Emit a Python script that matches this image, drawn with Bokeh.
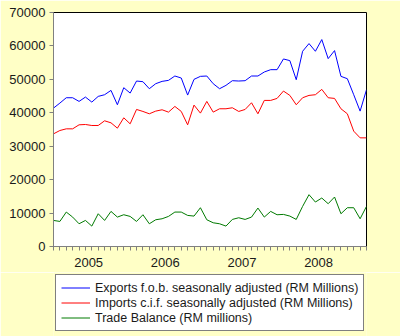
from bokeh.plotting import figure
from bokeh.layouts import column
from bokeh.models import ColumnDataSource, FixedTicker, Legend, LegendItem, Range1d
from bokeh.embed import file_html
from bokeh.resources import INLINE

# Monthly data, Jan 2005 .. Feb 2009 (RM millions)
months = list(range(50))
exports = [41400, 42900, 44500, 44500, 43400, 44700, 43200, 44900, 45400, 46700,
           42400, 47500, 45900, 49500, 49300, 47200, 48700, 49400, 49700, 51000,
           50400, 45300, 50000, 50900, 51000, 48700, 47200, 48200, 49600, 49500,
           49600, 51000, 51000, 52200, 52900, 52900, 56100, 55600, 49900, 58400,
           60700, 58400, 61900, 56200, 58600, 50900, 50200, 45400, 40500, 46900]
imports = [33700, 34700, 35200, 35200, 36400, 36500, 36200, 36200, 37600, 37000,
           35400, 38500, 36700, 41000, 40400, 39700, 40500, 40900, 40200, 41900,
           40400, 36400, 42300, 39900, 43400, 40200, 41200, 41200, 41500, 40400,
           41000, 43000, 39700, 43700, 43700, 44300, 46500, 45200, 42400, 44500,
           45200, 45400, 47000, 44500, 44300, 41200, 39700, 34500, 32500, 32500]
balance = [7800, 7500, 10300, 8800, 6800, 7800, 6100, 9800, 7800, 10500,
           8800, 9500, 9000, 7500, 9500, 6800, 8000, 8300, 9000, 10300,
           10300, 9300, 9100, 11600, 8000, 7100, 6800, 6100, 8100, 8600,
           8100, 8800, 11500, 8800, 10500, 9500, 9600, 9100, 8100, 12000,
           15500, 13300, 14500, 12800, 14800, 9800, 11600, 11600, 8300, 12000]
year_labels = ["2005", "2006", "2007", "2008"]
year_centers = [5.5, 17.5, 29.5, 41.5]
y_ticks = [0, 10000, 20000, 30000, 40000, 50000, 60000, 70000]
series_names = ["Exports f.o.b. seasonally adjusted (RM Millions)",
                "Imports c.i.f. seasonally adjusted (RM Millions)",
                "Trade Balance (RM millions)"]
series_colors = ["#0000FF", "#FF0000", "#007A00"]

BG = "#FFFFC6"
FONT = "Liberation Sans"

src = ColumnDataSource(dict(x=months, exp=exports, imp=imports, bal=balance))

p = figure(width=400, height=272, output_backend="svg", toolbar_location=None,
           x_range=Range1d(0, len(months) - 1), y_range=Range1d(0, 70000),
           min_border_left=53, min_border_right=34, min_border_top=12,
           min_border_bottom=26)
p.border_fill_color = BG
p.background_fill_color = "white"
p.outline_line_color = "black"
p.outline_line_width = 1
p.xgrid.visible = False
p.ygrid.visible = False

p.line("x", "exp", source=src, line_color=series_colors[0], line_width=1)
p.line("x", "imp", source=src, line_color=series_colors[1], line_width=1)
p.line("x", "bal", source=src, line_color=series_colors[2], line_width=1)

p.xaxis.ticker = FixedTicker(ticks=year_centers, minor_ticks=months)
p.xaxis.major_label_overrides = {c: l for c, l in zip(year_centers, year_labels)}
p.xaxis.major_tick_out = 0
p.xaxis.major_tick_in = 0
p.xaxis.minor_tick_out = 4
p.xaxis.minor_tick_in = 0
p.xaxis.minor_tick_line_color = "#808080"
p.xaxis.axis_line_color = "#808080"
p.xaxis.major_label_standoff = 7

p.yaxis.ticker = FixedTicker(ticks=y_ticks, minor_ticks=[])
p.yaxis.major_label_overrides = {t: str(t) for t in y_ticks}
p.yaxis.major_tick_out = 4
p.yaxis.major_tick_in = 0
p.yaxis.major_tick_line_color = "#808080"
p.yaxis.axis_line_color = "#808080"
p.yaxis.major_label_standoff = 4

for ax in (p.xaxis, p.yaxis):
    ax.major_label_text_font = FONT
    ax.major_label_text_font_size = "13px"
    ax.major_label_text_color = "#1a1a1a"

# Legend panel beneath the chart
lg = figure(width=400, height=64, output_backend="svg", toolbar_location=None,
            x_range=Range1d(0, 1), y_range=Range1d(0, 1),
            x_axis_type=None, y_axis_type=None,
            min_border_left=53, min_border_right=34, min_border_top=0,
            min_border_bottom=0)
lg.border_fill_color = BG
lg.background_fill_color = BG
lg.outline_line_color = None
lg.xgrid.visible = False
lg.ygrid.visible = False
nan = float("nan")
items = []
for name, col in zip(series_names, series_colors):
    r = lg.line(x=[nan], y=[nan], line_color=col, line_width=1)
    items.append(LegendItem(label=name, renderers=[r]))

legend = Legend(items=items, location=(2, 5), orientation="vertical")
legend.border_line_color = "black"
legend.border_line_width = 1
legend.background_fill_color = "white"
legend.background_fill_alpha = 1
legend.label_text_font = FONT
legend.label_text_font_size = "12.5px"
legend.label_text_color = "#1a1a1a"
legend.glyph_width = 29
legend.glyph_height = 15
legend.label_height = 15
legend.spacing = 0
legend.padding = 5
legend.margin = 0
legend.label_standoff = 5
lg.add_layout(legend, "center")

layout = column(p, lg, spacing=0)
open("out.html", "w").write(file_html(layout, INLINE))
